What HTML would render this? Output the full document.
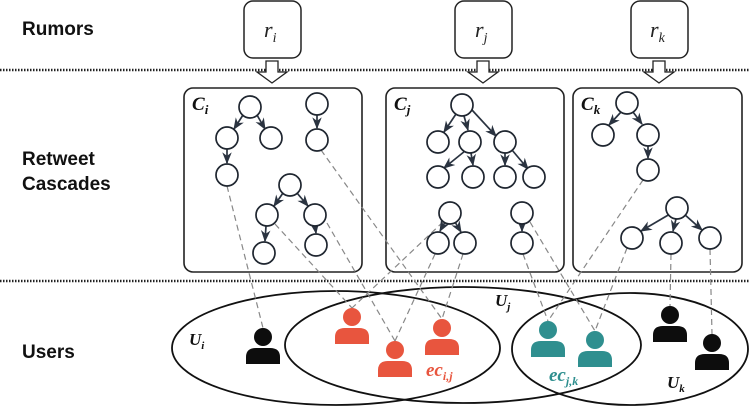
<!DOCTYPE html>
<html><head><meta charset="utf-8"><style>
html,body{margin:0;padding:0;background:#fff;width:750px;height:407px;overflow:hidden}
svg{display:block}
.lbl{font-family:"Liberation Sans",sans-serif;font-weight:bold;font-size:19px;fill:#111}
.m{font-family:"Liberation Serif",serif;font-style:italic;fill:#222}
.b{font-family:"Liberation Serif",serif;font-style:italic;font-weight:bold;fill:#111}
</style></head><body>
<svg width="750" height="407" viewBox="0 0 750 407" xmlns="http://www.w3.org/2000/svg">
<defs>
<marker id="ah" viewBox="0 0 10 10" refX="9" refY="5" markerWidth="7" markerHeight="7" orient="auto"><path d="M0,1 L10,5 L0,9 L3,5 z" fill="#2a3340"/></marker>
<g id="person"><circle cx="0" cy="0" r="9"/><path d="M-17,27 L-17,20 Q-17,11 -7,11 L7,11 Q17,11 17,20 L17,27 z"/></g>
</defs>
<text class="lbl" x="22" y="35">Rumors</text>
<text class="lbl" x="22" y="165">Retweet</text>
<text class="lbl" x="22" y="190">Cascades</text>
<text class="lbl" x="22" y="358">Users</text>
<g fill="#fff" stroke="#222" stroke-width="1.5">
<rect x="244" y="1" width="57" height="57" rx="9"/>
<rect x="455" y="1" width="57" height="57" rx="9"/>
<rect x="631" y="1" width="57" height="57" rx="9"/>
</g>
<text class="m" x="264" y="37" font-size="22">r<tspan font-size="14" dy="5">i</tspan></text>
<text class="m" x="475" y="37" font-size="22">r<tspan font-size="14" dy="5">j</tspan></text>
<text class="m" x="650" y="37" font-size="22">r<tspan font-size="14" dy="5">k</tspan></text>
<line x1="0" y1="70" x2="750" y2="70" stroke="#222" stroke-width="2.5" stroke-dasharray="1.5 1.5"/>
<line x1="0" y1="281" x2="750" y2="281" stroke="#222" stroke-width="2.5" stroke-dasharray="1.5 1.5"/>
<g fill="#fff" stroke="#222" stroke-width="1.3">
<path d="M266,61 L278,61 L278,72 L287,72 L272,83 L257,72 L266,72 z"/>
<path d="M477,61 L489,61 L489,72 L498,72 L483,83 L468,72 L477,72 z"/>
<path d="M653,61 L665,61 L665,72 L674,72 L659,83 L644,72 L653,72 z"/>
</g>
<g fill="none" stroke="#222" stroke-width="1.6">
<rect x="184" y="88" width="178" height="184" rx="9"/>
<rect x="386" y="88" width="178" height="184" rx="9"/>
<rect x="573" y="88" width="169" height="184" rx="9"/>
</g>
<text class="b" x="192" y="110" font-size="19">C<tspan font-size="13" dy="4">i</tspan></text>
<text class="b" x="394" y="110" font-size="19">C<tspan font-size="13" dy="4">j</tspan></text>
<text class="b" x="581" y="110" font-size="19">C<tspan font-size="13" dy="4">k</tspan></text>
<g fill="none" stroke="#111" stroke-width="1.8">
<ellipse cx="336" cy="348" rx="164" ry="57"/>
<ellipse cx="463" cy="345" rx="178" ry="58"/>
<ellipse cx="630" cy="349" rx="118" ry="56"/>
</g>
<g stroke="#888" stroke-width="1.2" stroke-dasharray="6 4" fill="none">
<line x1="227" y1="186" x2="263" y2="328"/>
<line x1="275" y1="224" x2="352" y2="308"/>
<line x1="443" y1="222" x2="352" y2="308"/>
<line x1="327" y1="223" x2="395" y2="341"/>
<line x1="435" y1="254" x2="395" y2="341"/>
<line x1="321" y1="150" x2="442" y2="319"/>
<line x1="463" y1="254" x2="442" y2="319"/>
<line x1="523" y1="254" x2="548" y2="321"/>
<line x1="643" y1="180" x2="548" y2="321"/>
<line x1="530" y1="222" x2="595" y2="331"/>
<line x1="627" y1="248" x2="595" y2="331"/>
<line x1="671" y1="254" x2="670" y2="306"/>
<line x1="710" y1="249" x2="712" y2="334"/>
</g>
<g stroke="#2a3340" stroke-width="1.7" marker-end="url(#ah)" fill="none">
<line x1="243" y1="115" x2="234" y2="129"/>
<line x1="257" y1="115" x2="265" y2="129"/>
<line x1="227" y1="149" x2="227" y2="163"/>
<line x1="317" y1="115" x2="317" y2="128"/>
<line x1="283" y1="193" x2="274" y2="206"/>
<line x1="297" y1="193" x2="308" y2="206"/>
<line x1="266" y1="226" x2="265" y2="241"/>
<line x1="315" y1="226" x2="316" y2="233"/>
<line x1="456" y1="114" x2="444" y2="132"/>
<line x1="464" y1="116" x2="468" y2="130"/>
<line x1="472" y1="110" x2="496" y2="136"/>
<line x1="465" y1="151" x2="444" y2="168"/>
<line x1="471" y1="153" x2="473" y2="165"/>
<line x1="505" y1="153" x2="505" y2="165"/>
<line x1="512" y1="150" x2="528" y2="169"/>
<line x1="445" y1="222" x2="440" y2="231"/>
<line x1="455" y1="222" x2="461" y2="232"/>
<line x1="522" y1="224" x2="522" y2="231"/>
<line x1="621" y1="112" x2="609" y2="125"/>
<line x1="633" y1="112" x2="642" y2="124"/>
<line x1="648" y1="146" x2="648" y2="158"/>
<line x1="670" y1="214" x2="641" y2="231"/>
<line x1="676" y1="219" x2="673" y2="231"/>
<line x1="684" y1="214" x2="702" y2="230"/>
</g>
<g fill="#fff" stroke="#1f2630" stroke-width="1.7">
<circle cx="250" cy="107" r="11"/><circle cx="227" cy="138" r="11"/><circle cx="271" cy="138" r="11"/><circle cx="227" cy="175" r="11"/>
<circle cx="317" cy="104" r="11"/><circle cx="317" cy="140" r="11"/>
<circle cx="290" cy="185" r="11"/><circle cx="267" cy="215" r="11"/><circle cx="315" cy="215" r="11"/><circle cx="264" cy="253" r="11"/><circle cx="316" cy="245" r="11"/>
<circle cx="462" cy="105" r="11"/><circle cx="438" cy="142" r="11"/><circle cx="470" cy="142" r="11"/><circle cx="505" cy="142" r="11"/>
<circle cx="438" cy="177" r="11"/><circle cx="473" cy="177" r="11"/><circle cx="505" cy="177" r="11"/><circle cx="534" cy="177" r="11"/>
<circle cx="450" cy="213" r="11"/><circle cx="438" cy="243" r="11"/><circle cx="465" cy="243" r="11"/><circle cx="522" cy="213" r="11"/><circle cx="522" cy="243" r="11"/>
<circle cx="627" cy="103" r="11"/><circle cx="603" cy="135" r="11"/><circle cx="648" cy="135" r="11"/><circle cx="648" cy="170" r="11"/>
<circle cx="677" cy="208" r="11"/><circle cx="632" cy="238" r="11"/><circle cx="671" cy="243" r="11"/><circle cx="710" cy="238" r="11"/>
</g>
<use href="#person" x="263" y="337" fill="#0d0d0d"/>
<use href="#person" x="352" y="317" fill="#e8553e"/>
<use href="#person" x="395" y="350" fill="#e8553e"/>
<use href="#person" x="442" y="328" fill="#e8553e"/>
<use href="#person" x="548" y="330" fill="#2f8f8f"/>
<use href="#person" x="595" y="340" fill="#2f8f8f"/>
<use href="#person" x="670" y="315" fill="#0d0d0d"/>
<use href="#person" x="712" y="343" fill="#0d0d0d"/>
<text class="b" x="189" y="345" font-size="17">U<tspan font-size="11" dy="4">i</tspan></text>
<text class="b" x="495" y="306" font-size="17">U<tspan font-size="11" dy="4">j</tspan></text>
<text class="b" x="667" y="388" font-size="17">U<tspan font-size="11" dy="4">k</tspan></text>
<text class="b" x="426" y="376" font-size="19" style="fill:#e8553e">ec<tspan font-size="12" dy="4">i,j</tspan></text>
<text class="b" x="549" y="381" font-size="19" style="fill:#2f8f8f">ec<tspan font-size="12" dy="4">j,k</tspan></text>
</svg>
</body></html>
